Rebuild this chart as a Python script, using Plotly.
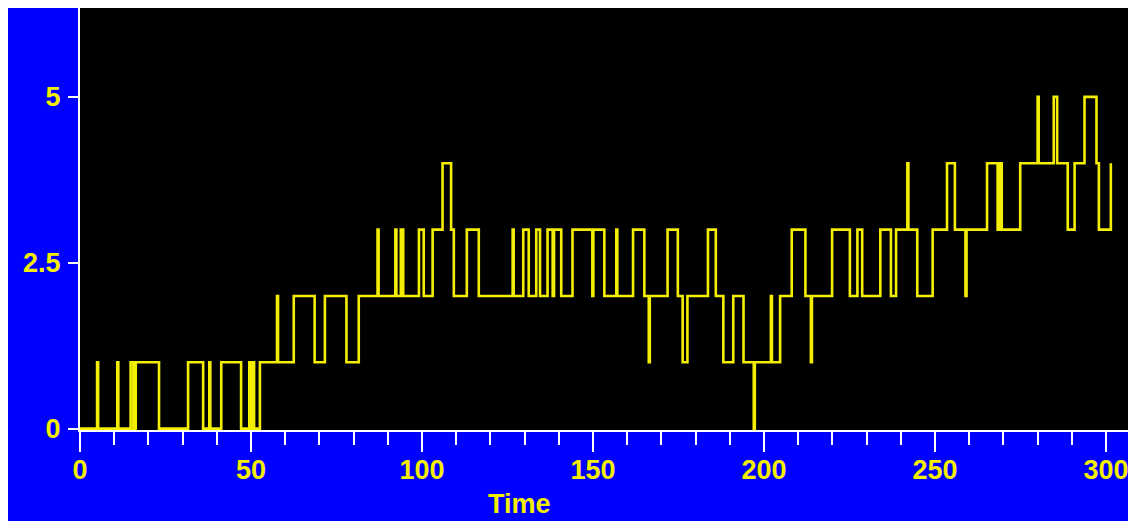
import plotly.graph_objects as go

# change points of the step process (time, level)
change_times = [
    0, 5.0, 5.3, 10.9, 11.2, 14.8, 15.6, 16.3, 23.1,
    31.6, 36.0, 37.8, 38.1, 41.3, 47.1, 49.5, 49.8, 50.5, 50.9,
    52.6, 57.6, 57.9, 62.5, 68.6, 71.6, 77.9, 81.5,
    87.0, 87.3, 92.2, 92.5, 93.8, 94.5, 99.1, 100.5,
    103.1, 106.0, 108.5, 109.3, 113.1, 116.6,
    126.5, 126.8, 129.6, 131.2, 133.4, 134.5,
    136.7, 138.2, 138.6, 140.7, 144.0, 149.8, 150.1, 153.3,
    156.8, 157.1, 161.7, 165.0, 166.3, 166.6,
    171.8, 174.8, 176.2, 177.6,
    183.6, 185.9, 188.1, 191.0, 194.0, 197.0, 197.3,
    202.0, 202.3, 204.7, 208.1, 212.1, 213.7, 214.0,
    219.9, 225.1, 227.3, 228.7, 234.0, 237.1, 238.6,
    241.9, 242.2, 244.8, 249.3, 253.5, 255.8, 258.9, 259.2,
    265.2, 268.3, 268.8, 269.5, 274.9, 280.0, 280.3,
    284.7, 285.7, 288.8, 290.8, 293.7, 297.2, 297.9, 301.4,
]
levels = [
    0, 1, 0, 1, 0, 1, 0, 1, 0,
    1, 0, 1, 0, 1, 0, 1, 0, 1, 0,
    1, 2, 1, 2, 1, 2, 1, 2,
    3, 2, 3, 2, 3, 2, 3, 2,
    3, 4, 3, 2, 3, 2,
    3, 2, 3, 2, 3, 2,
    3, 2, 3, 2, 3, 2, 3, 2,
    3, 2, 3, 2, 1, 2,
    3, 2, 1, 2,
    3, 2, 1, 2, 1, 0, 1,
    2, 1, 2, 3, 2, 1, 2,
    3, 2, 3, 2, 3, 2, 3,
    4, 3, 2, 3, 4, 3, 2, 3,
    4, 3, 4, 3, 4, 5, 4,
    5, 4, 3, 4, 5, 4, 3, 4,
]

x_ticks = [0, 50, 100, 150, 200, 250, 300]
y_ticks = [0, 2.5, 5]
y_tick_labels = ["0", "2.5", "5"]
x_title = "Time"

YELLOW = "#f4ee00"
FONT = "Liberation Sans"

fig = go.Figure(
    go.Scatter(
        x=change_times, y=levels, mode="lines",
        line=dict(shape="hv", color=YELLOW, width=2.6),
        hoverinfo="skip",
    )
)

W, H = 1128, 513
ml, mr, mt, mb = 72, 6, 0, 91
pw, ph = W - ml - mr, H - mt - mb

fig.update_layout(
    width=W, height=H,
    margin=dict(l=ml, r=mr, t=mt, b=mb, pad=0),
    paper_bgcolor="#0000ff",
    plot_bgcolor="#000000",
    showlegend=False,
    xaxis=dict(
        range=[0, 307.0], automargin=False,
        showgrid=False, zeroline=False,
        showline=True, linecolor="white", linewidth=2,
        tickmode="array", tickvals=x_ticks,
        ticks="outside", ticklen=20, tickwidth=2, tickcolor="white",
        ticklabelstandoff=-5,
        tickfont=dict(family=FONT, size=27, color=YELLOW, weight="bold"),
        minor=dict(dtick=10, tick0=0, ticks="outside", ticklen=13,
                   tickwidth=2, tickcolor="white", showgrid=False),
    ),
    yaxis=dict(
        range=[-0.02, 6.34], automargin=False,
        showgrid=False, zeroline=False,
        showline=True, linecolor="white", linewidth=2,
        tickmode="array", tickvals=y_ticks, ticktext=y_tick_labels,
        ticks="outside", ticklen=10, tickwidth=2, tickcolor="white",
        ticklabelstandoff=2,
        tickfont=dict(family=FONT, size=27, color=YELLOW, weight="bold"),
    ),
    annotations=[dict(
        text="<b>%s</b>" % x_title, xref="paper", yref="paper",
        x=(511 - ml) / pw, y=-(496 - (mt + ph)) / ph,
        xanchor="center", yanchor="middle", showarrow=False,
        font=dict(family=FONT, size=27, color=YELLOW),
    )],
)

fig.write_html("out.html")
